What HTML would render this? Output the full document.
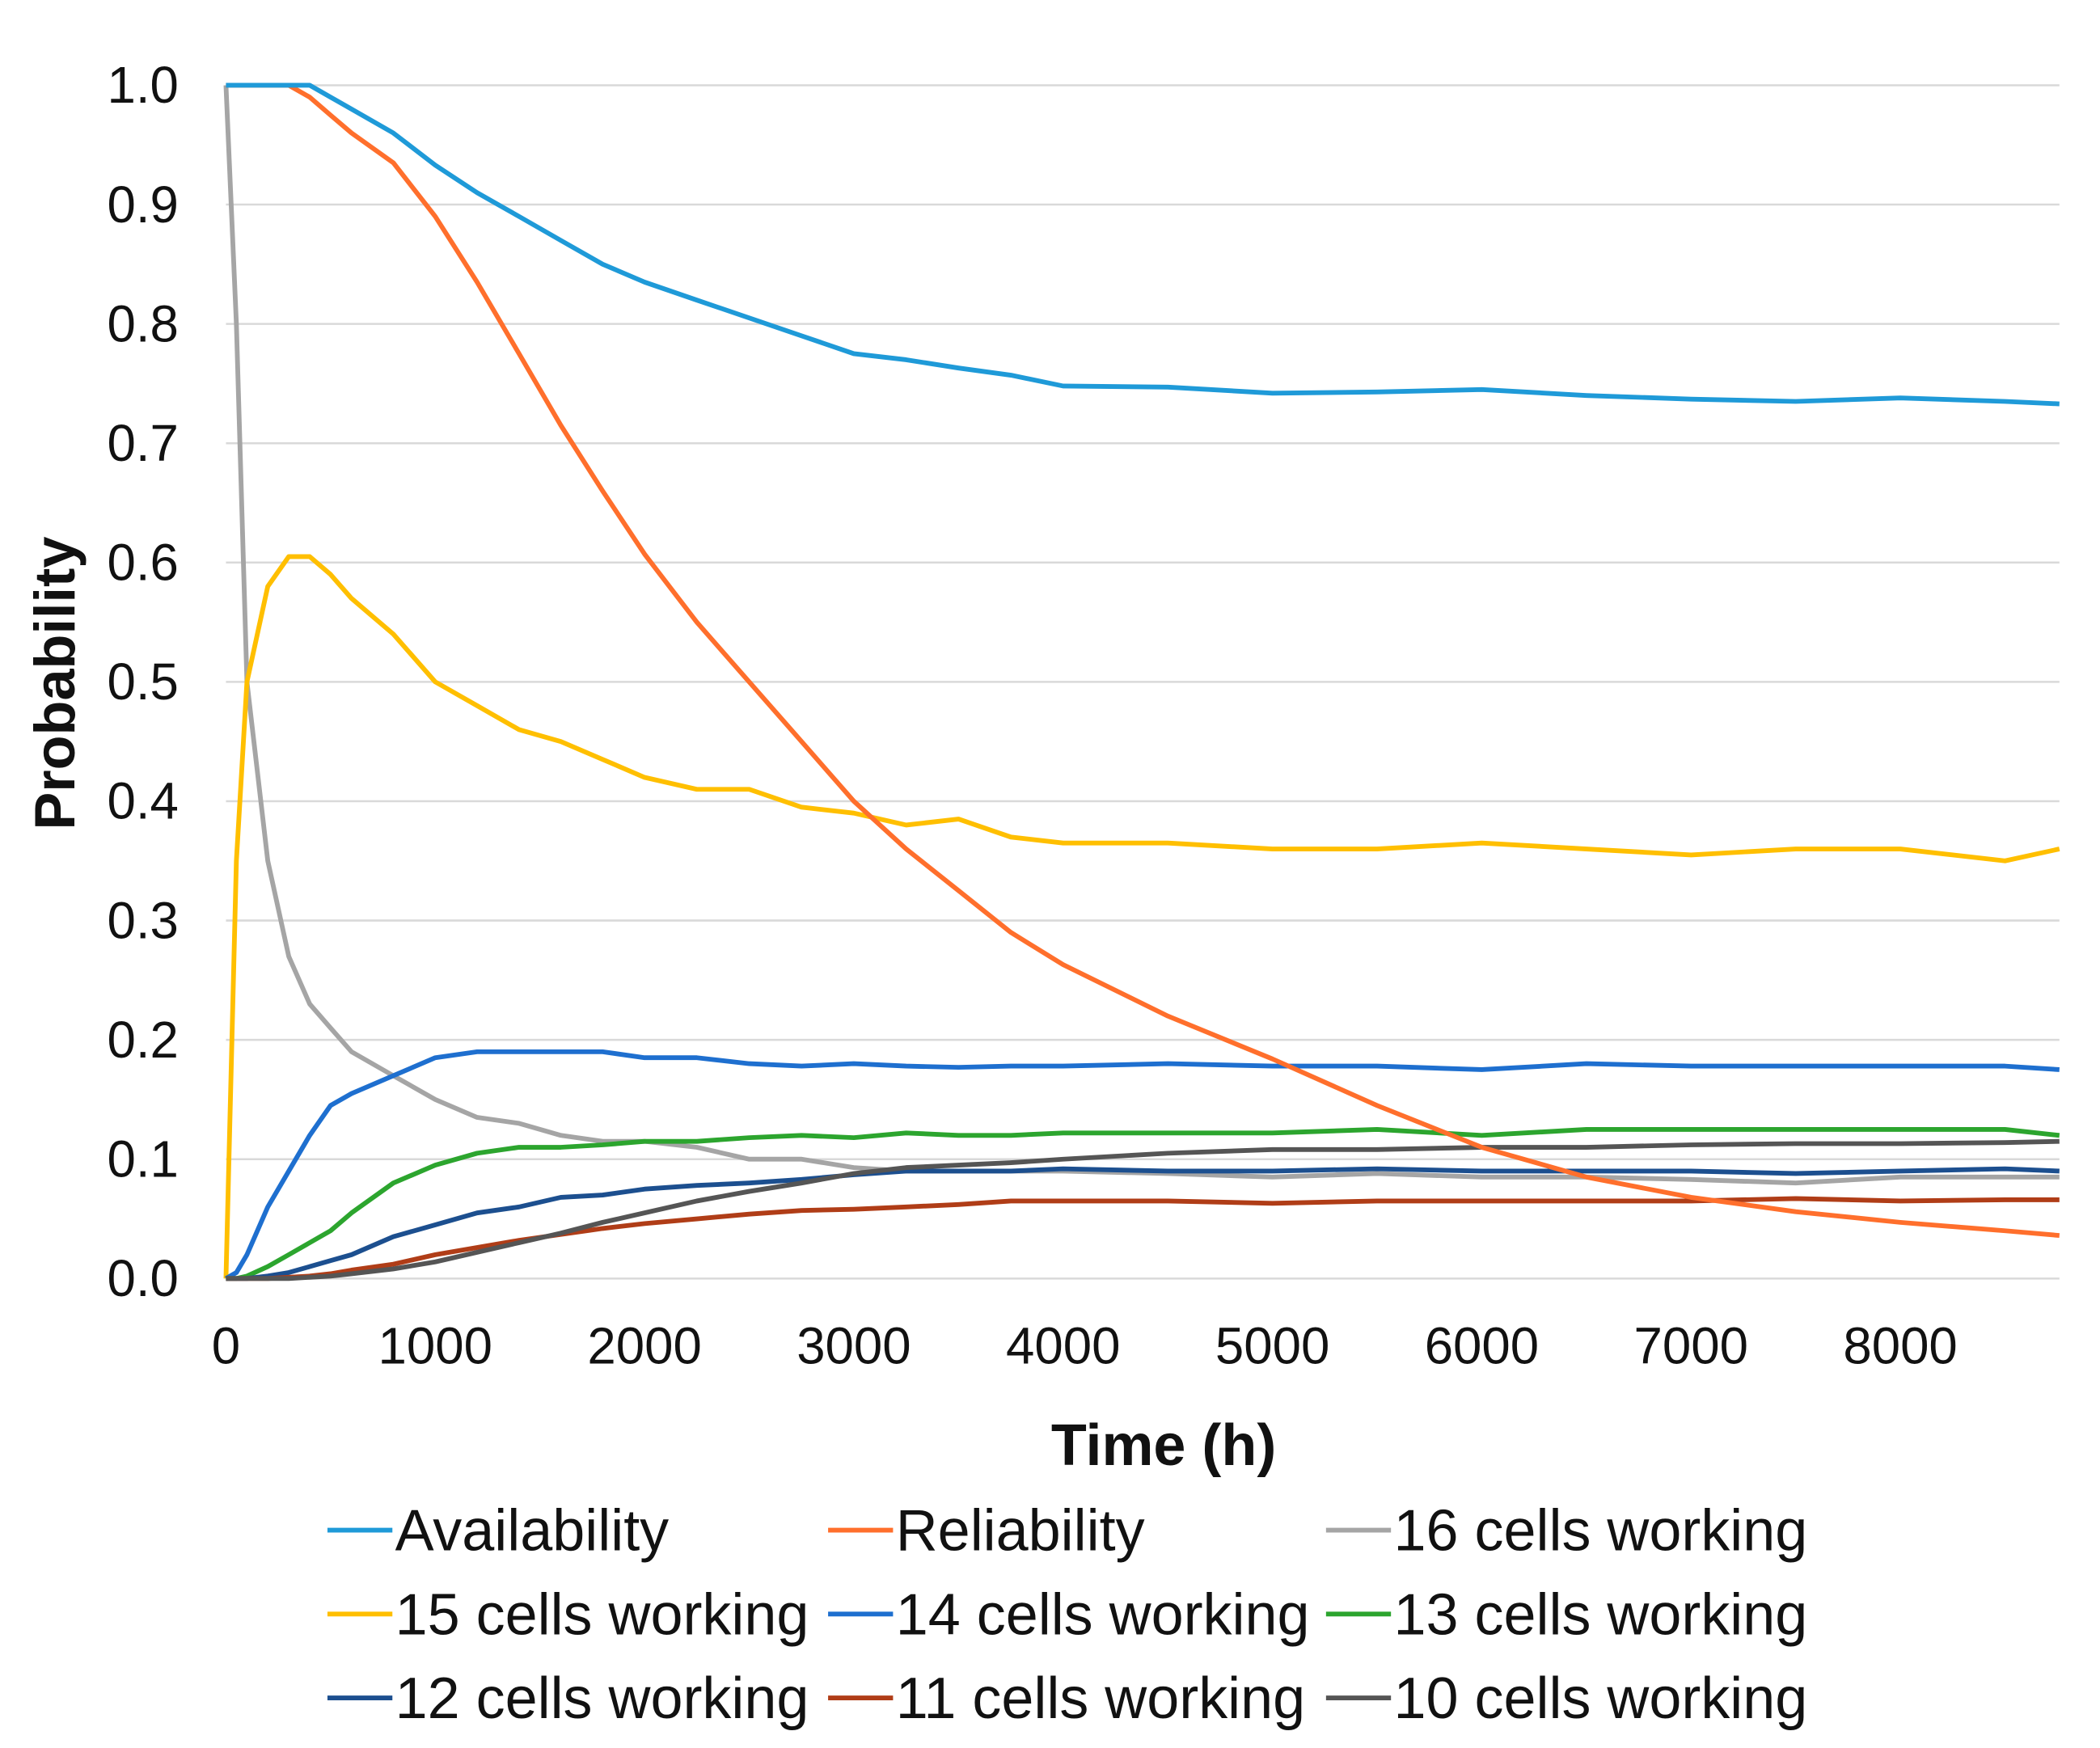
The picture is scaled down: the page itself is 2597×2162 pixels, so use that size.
<!DOCTYPE html>
<html><head><meta charset="utf-8"><style>
html,body{margin:0;padding:0;background:#fff;}
svg{display:block;}
text{font-family:"Liberation Sans",Arial,sans-serif;fill:#111;}
</style></head><body>
<svg id="chart" width="2597" height="2162" viewBox="0 0 1552 1292" xmlns="http://www.w3.org/2000/svg">
<g id="grid"></g>
<g id="yticks"></g>
<g id="xticks"></g>
<g id="series"></g>
<text x="860" y="1083" text-anchor="middle" font-size="43" font-weight="bold">Time (h)</text>
<text transform="translate(55,505) rotate(-90)" text-anchor="middle" font-size="42" font-weight="bold">Probability</text>
<g id="legend"></g>
</svg>
<script>
const times=[0,50,100,200,300,400,500,600,800,1000,1200,1400,1600,1800,2000,2250,2500,2750,3000,3250,3500,3750,4000,4500,5000,5500,6000,6500,7000,7500,8000,8500,8760];
const availability=[1,1,1,1,1,1,0.99,0.98,0.96,0.933,0.91,0.89,0.87,0.85,0.835,0.82,0.805,0.79,0.775,0.77,0.763,0.757,0.748,0.747,0.742,0.743,0.745,0.74,0.737,0.735,0.738,0.735,0.733];
const reliability=[1,1,1,1,1,0.99,0.975,0.96,0.935,0.89,0.835,0.775,0.715,0.66,0.607,0.55,0.5,0.45,0.40,0.36,0.325,0.29,0.263,0.22,0.184,0.145,0.11,0.085,0.068,0.056,0.047,0.04,0.036];
const cells16=[1,0.8,0.5,0.35,0.27,0.23,0.21,0.19,0.17,0.15,0.135,0.13,0.12,0.115,0.115,0.11,0.1,0.1,0.093,0.09,0.09,0.09,0.09,0.088,0.085,0.088,0.085,0.085,0.083,0.08,0.085,0.085,0.085];
const cells15=[0,0.35,0.5,0.58,0.605,0.605,0.59,0.57,0.54,0.5,0.48,0.46,0.45,0.435,0.42,0.41,0.41,0.395,0.39,0.38,0.385,0.37,0.365,0.365,0.36,0.36,0.365,0.36,0.355,0.36,0.36,0.35,0.36];
const cells14=[0,0.005,0.02,0.06,0.09,0.12,0.145,0.155,0.17,0.185,0.19,0.19,0.19,0.19,0.185,0.185,0.18,0.178,0.18,0.178,0.177,0.178,0.178,0.18,0.178,0.178,0.175,0.18,0.178,0.178,0.178,0.178,0.175];
const cells13=[0,0,0.002,0.01,0.02,0.03,0.04,0.055,0.08,0.095,0.105,0.11,0.11,0.112,0.115,0.115,0.118,0.12,0.118,0.122,0.12,0.12,0.122,0.122,0.122,0.125,0.12,0.125,0.125,0.125,0.125,0.125,0.12];
const cells12=[0,0,0,0.002,0.005,0.01,0.015,0.02,0.035,0.045,0.055,0.06,0.068,0.07,0.075,0.078,0.08,0.083,0.087,0.09,0.09,0.09,0.092,0.09,0.09,0.092,0.09,0.09,0.09,0.088,0.09,0.092,0.09];
const cells11=[0,0,0,0,0.001,0.002,0.004,0.007,0.012,0.02,0.026,0.032,0.037,0.042,0.046,0.05,0.054,0.057,0.058,0.06,0.062,0.065,0.065,0.065,0.063,0.065,0.065,0.065,0.065,0.067,0.065,0.066,0.066];
const cells10=[0,0,0,0,0,0.001,0.002,0.004,0.008,0.014,0.022,0.03,0.038,0.047,0.055,0.065,0.073,0.08,0.088,0.093,0.095,0.097,0.1,0.105,0.108,0.108,0.11,0.11,0.112,0.113,0.113,0.114,0.115];
const yTickLabels=["0.0","0.1","0.2","0.3","0.4","0.5","0.6","0.7","0.8","0.9","1.0"];
const xTickLabels=["0","1000","2000","3000","4000","5000","6000","7000","8000"];
const seriesNames=["Availability","Reliability","16 cells working","15 cells working","14 cells working","13 cells working","12 cells working","11 cells working","10 cells working"];
const seriesData=[availability,reliability,cells16,cells15,cells14,cells13,cells12,cells11,cells10];

const NS="http://www.w3.org/2000/svg";
const colors=["#1f9ad8","#ff6f2c","#a5a5a5","#ffbf00","#1e6fcf","#2ca52e","#1c4f8f","#b03d17","#555555"];
const keys=["availability","reliability","16-cells","15-cells","14-cells","13-cells","12-cells","11-cells","10-cells"];
const X0=167,X1=1522,XMAX=8760,Y0=945,Y1=63;
const xs=t=>X0+(X1-X0)*t/XMAX;
const ys=v=>Y0-(Y0-Y1)*v;
function mk(tag,attrs,parent,txt){const e=document.createElementNS(NS,tag);for(const k in attrs)e.setAttribute(k,attrs[k]);if(txt!==undefined)e.textContent=txt;parent.appendChild(e);return e;}
const grid=document.getElementById('grid'),yt=document.getElementById('yticks'),xt=document.getElementById('xticks'),sg=document.getElementById('series'),lg=document.getElementById('legend');
yTickLabels.forEach((l,i)=>{
  const v=parseFloat(l);
  const g=mk('line',{x1:X0,x2:X1,y1:ys(v),y2:ys(v),stroke:'#d9d9d9','stroke-width':1.5},grid);
  
  
  const t=mk('text',{x:132,y:ys(v)+13,'text-anchor':'end','font-size':38},yt,l);
  
  
});
xTickLabels.forEach(l=>{
  const t=mk('text',{x:xs(parseFloat(l)),y:1008,'text-anchor':'middle','font-size':38},xt,l);
  
  
});
const order=[2,3,4,5,6,7,8,1,0];
order.forEach(i=>{
  const d=seriesData[i].map((v,j)=>(j?'L':'M')+xs(times[j]).toFixed(1)+','+ys(v).toFixed(1)).join(' ');
  const p=mk('path',{d:d,fill:'none',stroke:colors[i],'stroke-width':3.5,'stroke-linejoin':'round'},sg);
  
  
});
const colX=[242,612,980],rowY=[1131,1193,1255];
seriesNames.forEach((n,i)=>{
  const c=i%3,r=Math.floor(i/3);
  const g=mk('g',{},lg);
  
  
  mk('line',{x1:colX[c],x2:colX[c]+48,y1:rowY[r],y2:rowY[r],stroke:colors[i],'stroke-width':3.5},g);
  mk('text',{x:colX[c]+50,y:rowY[r]+15,'font-size':43},g,n);
});
</script>
</body></html>
